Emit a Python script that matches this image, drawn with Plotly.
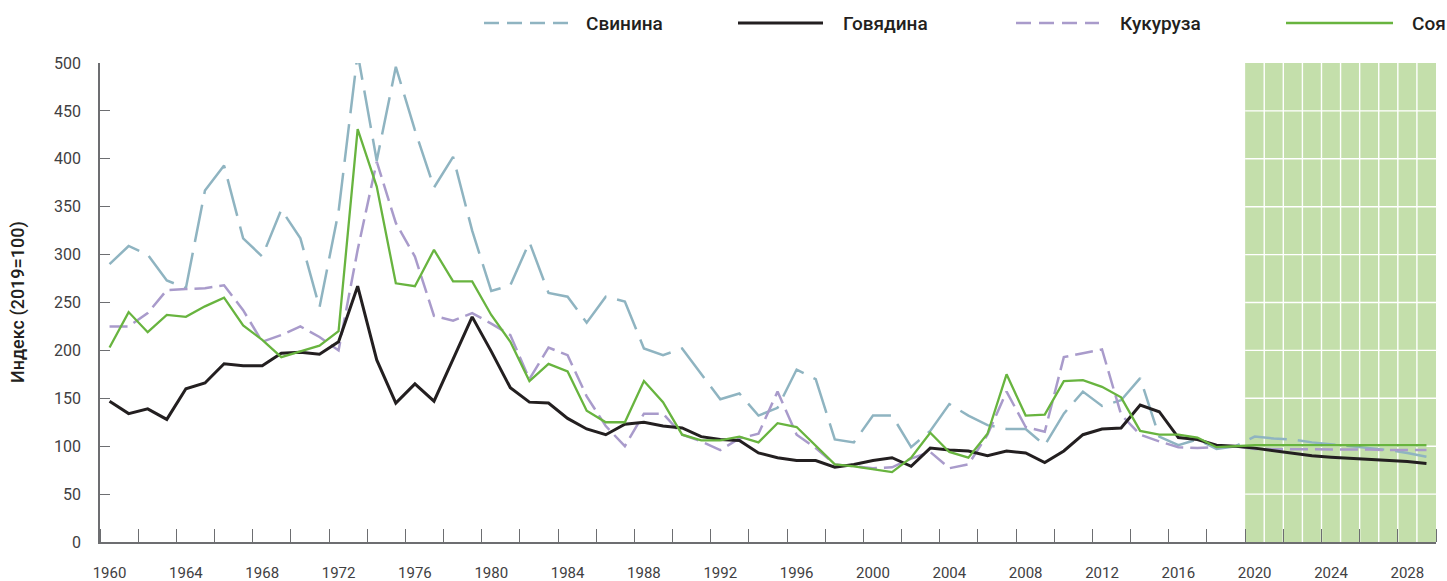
import plotly.graph_objects as go

# ---------------- data ----------------
years = list(range(1960, 2030))

pork = [290, 309, 300, 273, 265, 367, 393, 317, 298, 347,
        317, 245, 345, 510, 398, 496, 430, 370, 402, 325,
        262, 268, 313, 260, 256, 229, 256, 251, 202, 195,
        202, 176, 149, 155, 132, 140, 180, 170, 107, 104,
        132, 132, 99, 116, 144, 132, 122, 118, 118, 101,
        134, 157, 142, 148, 171, 110, 101, 107, 97, 100,
        110, 108, 107, 104, 102, 100, 98, 96, 93, 89]

beef = [147, 134, 139, 128, 160, 166, 186, 184, 184, 197,
        198, 196, 209, 267, 190, 145, 165, 147, 191, 235,
        199, 161, 146, 145, 129, 118, 112, 123, 125, 121,
        119, 110, 107, 106, 93, 88, 85, 85, 78, 81,
        85, 88, 79, 98, 96, 95, 90, 95, 93, 83,
        95, 112, 118, 119, 143, 136, 109, 107, 101, 100,
        98, 95.5, 93, 90, 88.5, 87.5, 86, 85, 84, 82]

corn = [225, 225, 239, 263, 264, 265, 268, 242, 209, 216,
        225, 214, 200, 305, 397, 333, 298, 236, 231, 239,
        228, 216, 170, 203, 195, 152, 121, 100, 134, 134,
        112, 105, 96, 108, 113, 157, 112, 98, 81, 79,
        77, 78, 87, 94, 77, 81, 112, 157, 120, 115,
        193, 197, 201, 133, 112, 105, 99, 98, 99, 100,
        97, 97, 97, 97, 97, 96.5, 96.5, 96, 96, 96]

soy = [203, 240, 219, 237, 235, 246, 255, 226, 211, 193,
       199, 205, 220, 431, 371, 270, 267, 305, 272, 272,
       237, 209, 168, 186, 178, 137, 125, 125, 168, 146,
       112, 106, 106, 110, 104, 124, 120, 101, 81, 79,
       76, 73, 88, 114, 94, 88, 113, 175, 132, 133,
       168, 169, 162, 151, 116, 112, 112, 109, 99, 100,
       101, 101, 101, 101, 101, 101, 101, 101, 101, 101]

series_names = ["Свинина", "Говядина", "Кукуруза", "Соя"]
x_tick_labels = list(range(1960, 2029, 4))
y_ticks = list(range(0, 501, 50))
projection_start = 2019.5
projection_end = 2029.5
y_title = "Индекс (2019=100)"

# ---------------- styles ----------------
C_PORK = "#8fb4c1"
C_BEEF = "#231f20"
C_CORN = "#a99bcb"
C_SOY = "#68b43f"
C_AXIS = "#6d6e71"
C_TEXT = "#414042"
FONT = "Roboto"

W, H = 1447, 581
L, R, T, B = 100, 11, 63, 39


def px_x(px):
    return (px - L) / (W - L - R)


def px_y(py):
    return (H - B - py) / (H - T - B)


fig = go.Figure()
styles = [
    (pork, series_names[0], C_PORK, 2.5, "38px,11px"),
    (corn, series_names[2], C_CORN, 2.5, "18px,7px"),
    (beef, series_names[1], C_BEEF, 3.0, "solid"),
    (soy, series_names[3], C_SOY, 2.3, "solid"),
]
for vals, name, col, w, dash in styles:
    fig.add_trace(go.Scatter(
        x=years, y=vals, mode="lines", name=name,
        line=dict(color=col, width=w, dash=dash),
        showlegend=False,
    ))

shapes = []
# projection band
shapes.append(dict(type="rect", xref="x", yref="y",
                   x0=projection_start, x1=projection_end, y0=0, y1=500,
                   fillcolor="#c4dfab", line=dict(width=0), layer="below"))
for yy in y_ticks[1:-1]:
    shapes.append(dict(type="line", xref="x", yref="y",
                       x0=projection_start, x1=projection_end, y0=yy, y1=yy,
                       line=dict(color="white", width=1.4), layer="below"))
for k in range(1, 10):
    xx = projection_start + k
    shapes.append(dict(type="line", xref="x", yref="y",
                       x0=xx, x1=xx, y0=0, y1=500,
                       line=dict(color="white", width=1.4), layer="below"))

# custom legend
leg_y = px_y(23)
legend_items = [
    (484, 568, 584, C_PORK, 2.5, "15px,8px"),
    (738, 823, 841, C_BEEF, 3.0, "solid"),
    (1016, 1099, 1118, C_CORN, 2.5, "15px,8px"),
    (1286, 1393, 1410, C_SOY, 2.3, "solid"),
]
annotations = []
for (a, b, tx, col, w, dash), name in zip(legend_items, series_names):
    shapes.append(dict(type="line", xref="paper", yref="paper",
                       x0=px_x(a), x1=px_x(b), y0=leg_y, y1=leg_y,
                       line=dict(color=col, width=w, dash=dash)))
    annotations.append(dict(xref="paper", yref="paper", x=px_x(tx), y=leg_y,
                            text=name, showarrow=False, xanchor="left",
                            yanchor="middle",
                            font=dict(family=FONT, size=19, color=C_BEEF,
                                      weight=500)))

annotations.append(dict(xref="paper", yref="paper", x=px_x(18), y=px_y(302),
                        text=y_title, showarrow=False, textangle=-90,
                        xanchor="center", yanchor="middle",
                        font=dict(family=FONT, size=18, color=C_BEEF,
                                  weight=500)))

fig.update_layout(
    width=W, height=H,
    margin=dict(l=L, r=R, t=T, b=B, autoexpand=False),
    paper_bgcolor="white", plot_bgcolor="white",
    font=dict(family=FONT, size=15, color=C_TEXT),
    shapes=shapes, annotations=annotations,
    showlegend=False,
    xaxis=dict(
        range=[1959.5, 2029.5], tickmode="array", tickvals=x_tick_labels,
        ticktext=[str(v) for v in x_tick_labels],
        ticks="", showgrid=False, zeroline=False,
        showline=True, linecolor=C_AXIS, linewidth=1.5,
        ticklabelstandoff=16,
        tickfont=dict(family=FONT, size=15, color=C_TEXT),
        minor=dict(tickmode="linear", tick0=1959.5, dtick=2, ticks="inside",
                   ticklen=13, tickcolor=C_AXIS, tickwidth=1.3,
                   showgrid=False),
    ),
    yaxis=dict(
        range=[0, 500], tickmode="array", tickvals=y_ticks,
        ticks="inside", ticklen=10, tickcolor=C_AXIS, tickwidth=1.3,
        showgrid=False, zeroline=False,
        showline=True, linecolor=C_AXIS, linewidth=1.5,
        ticklabelstandoff=14,
        tickfont=dict(family=FONT, size=16, color=C_TEXT),
    ),
)

fig.write_html(
    "out.html",
    config={"displayModeBar": False},
    post_script="document.body.style.margin='0px';"
                "document.body.style.overflow='hidden';",
)
